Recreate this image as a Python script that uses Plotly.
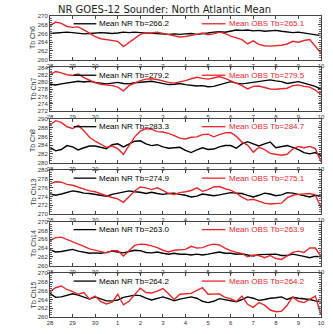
import plotly.graph_objects as go
import pandas as pd

times = pd.date_range("2005-09-28 00:00", "2005-10-10 00:00", freq="6h")
tick_dates = pd.date_range("2005-09-28", "2005-10-10", freq="D")
tick_labels = ["28", "29", "30", "1", "2", "3", "4", "5", "6", "7", "8", "9", "10"]

channels = ["Tb Ch6", "Tb Ch7", "Tb Ch8", "Tb Ch13", "Tb Ch14", "Tb Ch15"]
mean_nr = ["266.2", "279.2", "283.3", "274.9", "263.0", "264.2"]
mean_obs = ["265.1", "279.5", "284.7", "275.1", "263.9", "264.2"]
y_ranges = [(260, 270), (272, 284), (280, 290), (270, 280), (260, 270), (260, 270)]

nr_ch6 = [266.0, 266.1, 266.2, 266.3, 266.2, 266.0, 265.9, 266.0, 266.1, 266.2, 266.1, 266.0, 266.1,
          266.3, 266.2, 266.3, 266.2, 266.1, 266.0, 265.9, 265.9, 265.8, 265.9, 265.8, 265.9, 266.0,
          265.8, 265.9, 266.1, 266.3, 266.4, 266.3, 266.5, 266.8, 266.7, 266.8, 266.6, 266.7, 266.5,
          266.6, 266.7, 266.5, 266.3, 266.2, 266.3, 266.1, 265.9, 265.7, 265.5]
obs_ch6 = [267.8, 268.6, 268.3, 267.6, 267.4, 267.5, 266.8, 266.0, 265.3, 264.8, 264.6, 264.5, 264.2,
           263.0, 264.0, 265.0, 265.8, 266.2, 266.1, 266.3, 266.0, 265.8, 265.4, 265.2, 265.3, 265.5,
           265.8, 266.1, 265.7, 265.9, 266.3, 266.0, 265.4, 265.0, 264.6, 263.6, 264.3, 263.5, 263.2,
           263.1, 263.2, 263.3, 263.6, 264.2, 264.0, 264.4, 264.6, 263.0, 261.5]

nr_ch7 = [279.4, 279.2, 279.5, 279.8, 280.0, 280.2, 280.0, 280.2, 279.9, 279.6, 279.5, 279.7, 279.9,
          279.6, 279.5, 279.8, 279.9, 280.1, 280.2, 279.9, 279.5, 279.3, 279.4, 279.6, 279.3, 279.1,
          278.9, 279.0, 278.7, 278.8, 279.2, 279.8, 280.1, 279.7, 279.5, 279.7, 279.9, 280.2, 280.5,
          280.6, 280.3, 280.1, 279.6, 279.9, 280.1, 279.7, 279.3, 278.8, 278.0]
obs_ch7 = [282.0, 282.9, 282.5, 282.0, 281.8, 282.2, 281.2, 280.4, 279.8, 279.4, 279.3, 279.0, 278.6,
           277.6, 279.0, 279.8, 280.4, 280.8, 280.9, 280.7, 280.2, 279.9, 279.7, 280.0, 280.4, 280.9,
           281.3, 281.0, 280.8, 281.1, 281.5, 281.0, 280.4, 279.7, 279.0, 278.1, 278.8, 278.9, 278.4,
           278.1, 278.0, 278.1, 278.3, 279.0, 279.2, 278.8, 278.6, 277.8, 276.5]

nr_ch8 = [283.5, 282.7, 283.0, 283.9, 283.6, 282.9, 283.4, 283.8, 283.8, 283.5, 283.2, 284.1, 284.3,
          283.6, 284.2, 284.9, 285.0, 284.3, 283.9, 284.1, 283.6, 283.3, 283.4, 283.5, 282.8, 282.3,
          282.9, 283.4, 283.0, 283.1, 283.6, 283.9, 283.9, 283.3, 284.3, 284.8, 284.3, 283.8, 284.3,
          284.7, 283.4, 283.6, 283.9, 283.5, 283.0, 282.3, 282.0, 282.3, 281.6]
obs_ch8 = [288.6, 289.6, 289.2, 288.2, 287.8, 288.5, 287.3, 285.8, 284.9, 284.2, 283.5, 283.8, 283.2,
           281.9, 284.0, 285.9, 287.2, 287.8, 287.6, 287.1, 287.0, 286.7, 286.2, 285.6, 285.4, 285.8,
           285.9, 286.4, 286.5, 285.9, 286.4, 286.8, 286.9, 286.0, 284.7, 284.0, 282.4, 283.5, 283.0,
           282.1, 281.9, 281.7, 281.9, 283.1, 283.7, 283.4, 283.7, 283.2, 280.2]

nr_ch13 = [274.6, 274.3, 274.6, 275.0, 275.3, 275.1, 274.8, 274.7, 274.5, 274.3, 274.1, 274.5, 274.8,
           275.0, 275.3, 275.1, 275.0, 274.7, 275.0, 274.7, 274.5, 274.7, 274.8, 274.5, 274.3, 273.9,
           274.1, 274.6, 274.4, 274.2, 274.4, 274.7, 274.9, 274.8, 274.7, 274.3, 273.9, 274.3, 274.8,
           274.6, 274.2, 274.4, 274.9, 274.8, 274.5, 274.2, 273.9, 274.3, 274.1]
obs_ch13 = [276.9, 277.4, 277.3, 276.8, 276.6, 276.2, 275.8, 275.3, 275.1, 274.6, 274.2, 273.8, 273.5,
            272.7, 273.9, 275.3, 276.2, 276.0, 275.6, 276.0, 275.4, 274.7, 274.5, 274.9, 275.1, 275.4,
            276.0, 275.2, 275.6, 276.2, 276.3, 275.8, 275.5, 274.8, 273.9, 273.2, 273.4, 272.9, 272.5,
            272.3, 272.4, 272.5, 273.7, 274.3, 274.5, 274.6, 274.7, 274.4, 271.5]

nr_ch14 = [263.6, 263.1, 263.2, 263.4, 263.7, 263.3, 263.1, 262.8, 262.9, 262.8, 263.0, 263.3, 263.1,
           262.9, 263.2, 263.5, 263.4, 263.0, 262.9, 263.1, 262.8, 262.6, 262.8, 262.6, 262.6, 262.4,
           262.6, 262.4, 262.6, 262.9, 263.1, 262.8, 262.8, 262.6, 262.7, 262.4, 262.2, 262.5, 262.5,
           262.5, 262.6, 262.3, 262.3, 262.6, 262.4, 262.1, 261.8, 262.1, 262.0]
obs_ch14 = [265.7, 266.4, 266.5, 266.0, 265.5, 265.0, 264.4, 263.8, 263.5, 263.1, 262.9, 263.4, 263.4,
            262.2, 263.4, 264.6, 264.9, 264.8, 264.5, 264.1, 263.5, 263.1, 263.5, 263.6, 263.7, 264.4,
            264.0, 264.1, 264.6, 264.9, 264.7, 264.0, 263.4, 263.0, 262.8, 262.0, 262.4, 262.3, 261.8,
            262.3, 261.6, 261.4, 262.2, 263.0, 263.3, 263.0, 264.0, 264.0, 262.0]

nr_ch15 = [265.4, 264.5, 264.6, 265.0, 265.3, 265.0, 264.6, 264.1, 264.6, 264.2, 263.7, 263.7, 263.9,
           264.5, 264.8, 265.0, 264.9, 264.3, 263.9, 264.2, 264.6, 264.2, 263.7, 264.1, 264.3, 264.6,
           264.3, 263.6, 263.3, 263.6, 264.2, 264.0, 263.8, 263.5, 264.0, 264.6, 264.3, 263.8, 264.0,
           264.3, 264.4, 264.6, 264.0, 264.5, 264.3, 264.2, 264.0, 263.7, 263.5]
obs_ch15 = [265.8, 266.7, 267.1, 266.3, 265.8, 265.2, 265.6, 264.1, 264.8, 263.5, 263.0, 263.4, 265.2,
            262.8, 263.6, 265.0, 266.6, 265.6, 265.5, 265.9, 266.5, 265.3, 264.0, 265.2, 265.3, 265.4,
            266.1, 266.7, 265.2, 265.3, 265.3, 264.5, 264.2, 263.5, 264.8, 262.9, 262.2, 263.3, 262.7,
            261.6, 261.2, 261.3, 262.7, 264.6, 263.6, 263.3, 264.0, 264.8, 260.5]

nr_series = [nr_ch6, nr_ch7, nr_ch8, nr_ch13, nr_ch14, nr_ch15]
obs_series = [obs_ch6, obs_ch7, obs_ch8, obs_ch13, obs_ch14, obs_ch15]

W, H = 333, 334
ML, MR, MT, MB = 50, 8, 16, 8
plot_h = H - MT - MB
plot_w = W - ML - MR
pitch = 53.0
ph = 45.0

RED = "#e3282c"
fig = go.Figure()
font_fam = "Liberation Sans, Arial, sans-serif"


def py(ypx):
    return min(1.0, max(0.0, 1 - (ypx - MT) / plot_h))


def px(xpx):
    return (xpx - ML) / plot_w


layout = {}
annotations = []
shapes = []
for i in range(6):
    k = "" if i == 0 else str(i + 1)
    top = MT + pitch * i
    bot = top + ph
    fig.add_trace(go.Scatter(x=times, y=nr_series[i], mode="lines",
                             line=dict(color="black", width=1.4),
                             xaxis="x" + k, yaxis="y" + k, showlegend=False))
    fig.add_trace(go.Scatter(x=times, y=obs_series[i], mode="lines",
                             line=dict(color=RED, width=1.4),
                             xaxis="x" + k, yaxis="y" + k, showlegend=False))
    layout["xaxis" + k] = dict(
        domain=[0, 1], anchor="y" + k,
        range=[times[0] - pd.Timedelta(minutes=1), times[-1] + pd.Timedelta(minutes=1)],
        tickvals=list(tick_dates), ticktext=tick_labels,
        ticks="inside", ticklen=3, tickcolor="#444",
        showline=True, linecolor="#444", linewidth=1, mirror="ticks",
        showgrid=False, zeroline=False, ticklabeloverflow="allow",
        tickfont=dict(size=6, color="#333", family=font_fam),
    )
    y0, y1 = y_ranges[i]
    layout["yaxis" + k] = dict(
        domain=[py(bot), py(top)], anchor="x" + k,
        range=[y0, y1], dtick=2,
        ticks="inside", ticklen=3, tickcolor="#444",
        minor=dict(ticks="inside", ticklen=2, dtick=0.5, tickcolor="#666"),
        showline=True, linecolor="#444", linewidth=1, mirror="ticks",
        showgrid=False, zeroline=False, automargin=False,
        tickfont=dict(size=6, color="#333", family=font_fam),
    )
    ly = top + 8
    shapes.append(dict(type="line", xref="paper", yref="paper",
                       x0=px(74), x1=px(97), y0=py(ly), y1=py(ly),
                       line=dict(color="black", width=1.3)))
    shapes.append(dict(type="line", xref="paper", yref="paper",
                       x0=px(204), x1=px(228), y0=py(ly), y1=py(ly),
                       line=dict(color=RED, width=1.3)))
    annotations.append(dict(xref="paper", yref="paper", x=px(98), y=py(ly),
                            xanchor="left", yanchor="middle", showarrow=False,
                            text="Mean NR Tb=" + mean_nr[i],
                            font=dict(size=8, color="black", family=font_fam)))
    annotations.append(dict(xref="paper", yref="paper", x=px(230), y=py(ly),
                            xanchor="left", yanchor="middle", showarrow=False,
                            text="Mean OBS Tb=" + mean_obs[i],
                            font=dict(size=8, color=RED, family=font_fam)))
    annotations.append(dict(xref="paper", yref="paper", x=px(33), y=py((top + bot) / 2),
                            xanchor="center", yanchor="middle", showarrow=False,
                            text=channels[i], textangle=-90,
                            font=dict(size=7, color="#333", family=font_fam)))

annotations.append(dict(xref="paper", yref="paper", x=px(166), y=1 + 7 / plot_h,
                        xanchor="center", yanchor="middle", showarrow=False,
                        text="NR GOES-12 Sounder: North Atlantic Mean",
                        font=dict(size=10, color="#222", family="DejaVu Sans, sans-serif")))

fig.update_layout(
    width=W, height=H,
    margin=dict(l=ML, r=MR, t=MT, b=MB),
    paper_bgcolor="white", plot_bgcolor="white",
    annotations=annotations, shapes=shapes,
    **layout,
)
fig.write_html("out.html", config={"displayModeBar": False},
               post_script="document.body.style.margin='0';document.body.style.overflow='hidden';")
